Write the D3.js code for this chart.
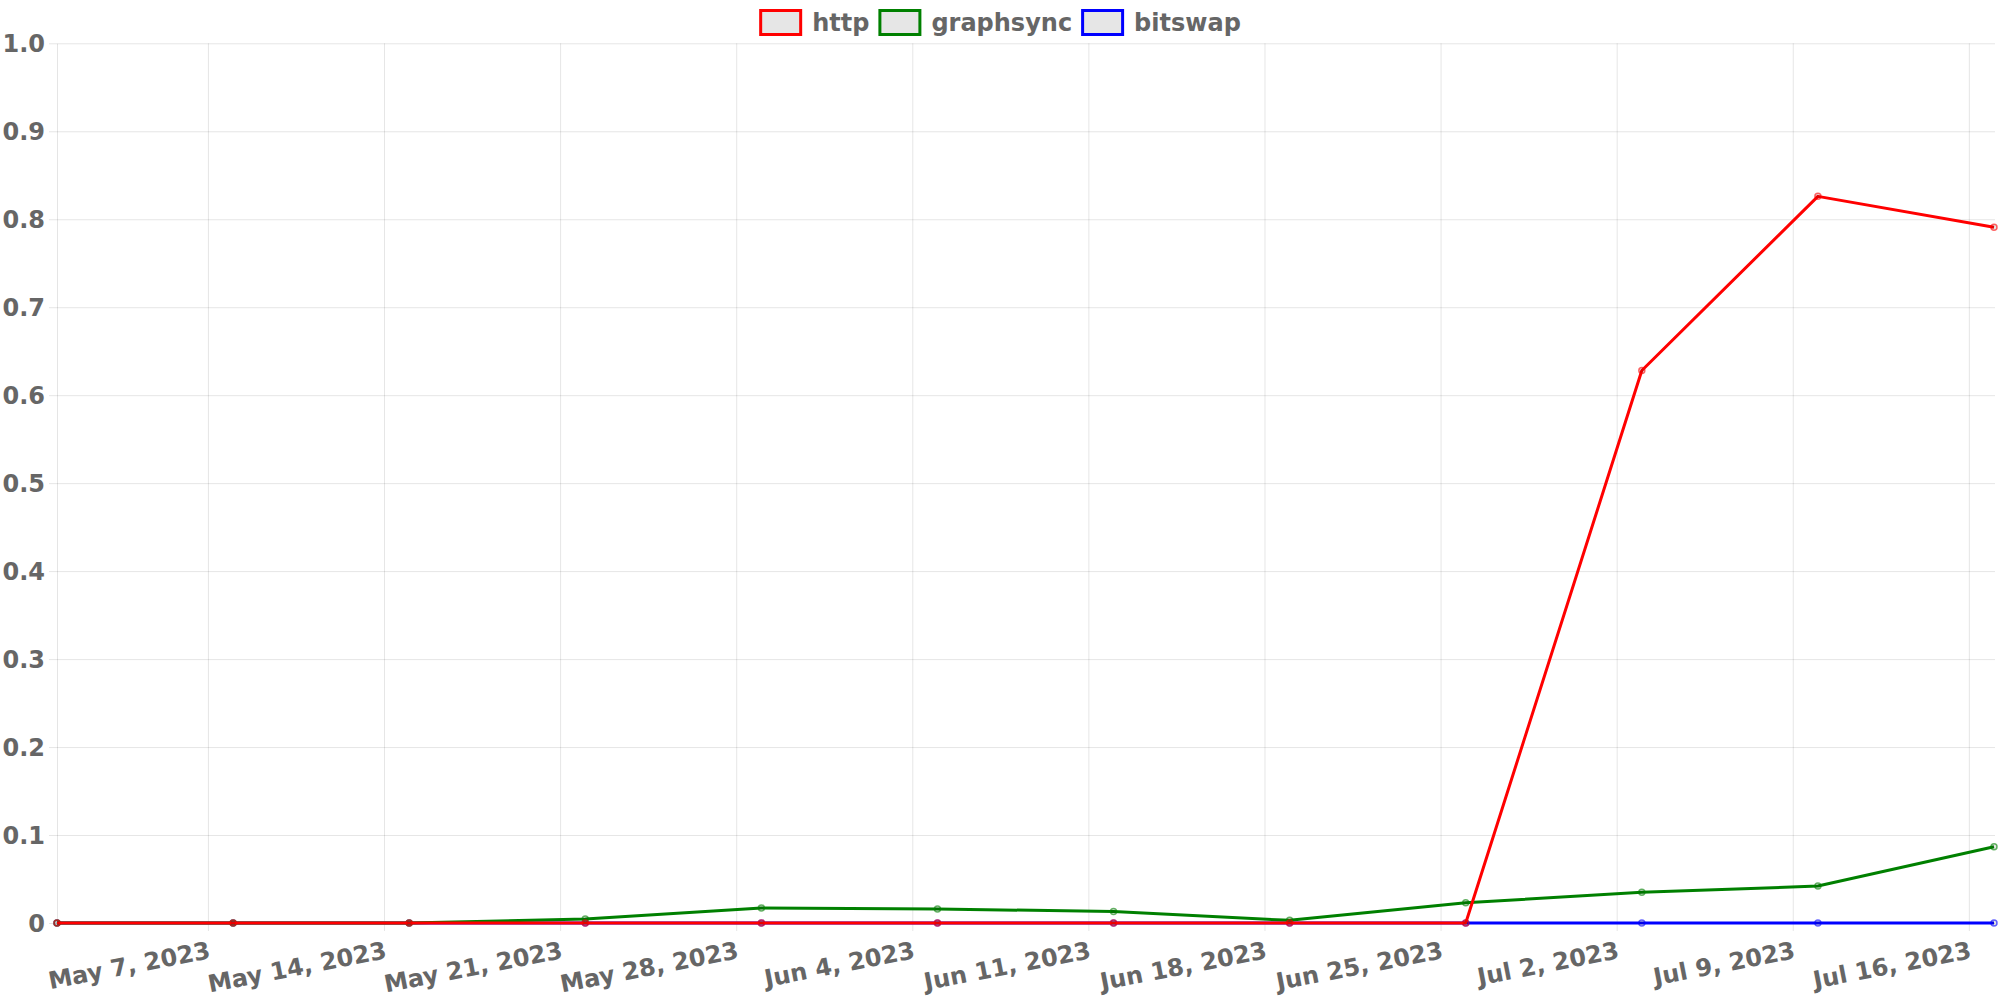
<!DOCTYPE html>
<html>
<head>
<meta charset="utf-8">
<script src="https://cdnjs.cloudflare.com/ajax/libs/d3/7.8.5/d3.min.js"></script>
<style>
    html, body { margin: 0; padding: 0; background: #fff; }
    svg { display: block; }
    text { font-family: "DejaVu Sans", sans-serif; font-weight: bold; font-size: 24px; fill: #666; }
</style>
</head>
<body>
<svg id="chart" width="2000" height="1000"></svg>
<script>
    'use strict';

    // weekly samples (Mondays)
    var dates = ['2023-05-01', '2023-05-08', '2023-05-15', '2023-05-22', '2023-05-29', '2023-06-05',
        '2023-06-12', '2023-06-19', '2023-06-26', '2023-07-03', '2023-07-10', '2023-07-17'];
    var http = [0, 0, 0, 0, 0, 0, 0, 0, 0, 0.628, 0.826, 0.791];
    var graphsync = [0, 0, 0, 0.0045, 0.017, 0.016, 0.013, 0.003, 0.023, 0.035, 0.042, 0.0866];
    var bitswap = [0, 0, 0, 0, 0, 0, 0, 0, 0, 0, 0, 0];
    var seriesNames = ['http', 'graphsync', 'bitswap'];
    var seriesColors = ['#ff0000', '#008000', '#0000ff'];
    var yTicks = [0, 0.1, 0.2, 0.3, 0.4, 0.5, 0.6, 0.7, 0.8, 0.9, 1.0];

    var GRID = 'rgba(0,0,0,0.1)';
    var TICK_LEN = 8;
    var area = { left: 57, right: 1995, top: 43.3, bottom: 923 };

    var svg = d3.select('#chart');
    var parse = d3.timeParse('%Y-%m-%d');
    var days = dates.map(parse);

    var x = d3.scaleTime()
        .domain([days[0], days[days.length - 1]])
        .range([area.left, area.right - 1]);
    var y = d3.scaleLinear()
        .domain([0, 1])
        .range([area.bottom, area.top]);

    // y axis + horizontal grid
    var yAxis = svg.append('g')
        .attr('transform', 'translate(' + area.left + ',0)')
        .call(d3.axisLeft(y)
            .tickValues(yTicks)
            .tickSizeOuter(0)
            .tickFormat(function (d) { return d === 0 ? '0' : d3.format('.1f')(d); }));
    yAxis.select('.domain').attr('stroke', GRID);
    yAxis.selectAll('.tick line')
        .attr('stroke', GRID)
        .attr('x1', -TICK_LEN)
        .attr('x2', area.right - area.left);
    yAxis.selectAll('.tick text')
        .attr('x', -12)
        .attr('dy', '0.36em')
        .style('font-size', '24px')
        .style('font-family', '"DejaVu Sans", sans-serif')
        .style('font-weight', 'bold')
        .attr('fill', '#666');

    // x axis + vertical grid
    var xAxis = svg.append('g')
        .attr('transform', 'translate(0,' + area.bottom + ')')
        .call(d3.axisBottom(x)
            .ticks(d3.timeSunday.every(1))
            .tickSizeOuter(0)
            .tickFormat(d3.timeFormat('%b %-d, %Y')));
    xAxis.select('.domain').attr('stroke', GRID);
    xAxis.selectAll('.tick line')
        .attr('stroke', GRID)
        .attr('y1', TICK_LEN)
        .attr('y2', area.top - area.bottom);
    xAxis.selectAll('.tick text')
        .attr('y', 0)
        .attr('dy', 0)
        .attr('text-anchor', 'end')
        .attr('transform', 'translate(3,35) rotate(-11)')
        .style('font-size', '24px')
        .style('font-family', '"DejaVu Sans", sans-serif')
        .style('font-weight', 'bold')
        .attr('fill', '#666');

    // series, last one drawn first so http ends up on top
    var series = [http, graphsync, bitswap];
    var line = d3.line()
        .x(function (d, i) { return x(days[i]); })
        .y(function (d) { return y(d); });

    for (var s = series.length - 1; s >= 0; s--) {
        var g = svg.append('g').attr('class', 'series-' + seriesNames[s]);
        g.append('path')
            .datum(series[s])
            .attr('d', line)
            .attr('fill', 'none')
            .attr('stroke', seriesColors[s])
            .attr('stroke-width', 3)
            .attr('stroke-linejoin', 'round');
        g.selectAll('circle')
            .data(series[s])
            .enter()
            .append('circle')
            .attr('cx', function (d, i) { return x(days[i]); })
            .attr('cy', function (d) { return y(d); })
            .attr('r', 3)
            .attr('fill', 'rgba(0,0,0,0.1)')
            .attr('stroke', seriesColors[s])
            .attr('stroke-opacity', 0.6)
            .attr('stroke-width', 1.5);
    }

    // legend, centred on the page
    var legend = svg.append('g').attr('class', 'legend');
    var cursor = 0;
    seriesNames.forEach(function (name, i) {
        var item = legend.append('g').attr('transform', 'translate(' + cursor + ',0)');
        item.append('rect')
            .attr('x', 1.5)
            .attr('y', 10.5)
            .attr('width', 40)
            .attr('height', 24)
            .attr('fill', '#e6e6e6')
            .attr('stroke', seriesColors[i])
            .attr('stroke-width', 3);
        var label = item.append('text')
            .attr('x', 53)
            .attr('y', 31)
            .text(name);
        cursor += 53 + label.node().getComputedTextLength() + 9;
    });
    var legendWidth = cursor - 9;
    legend.attr('transform', 'translate(' + (1000 - legendWidth / 2) + ',0)');
</script>
</body>
</html>
